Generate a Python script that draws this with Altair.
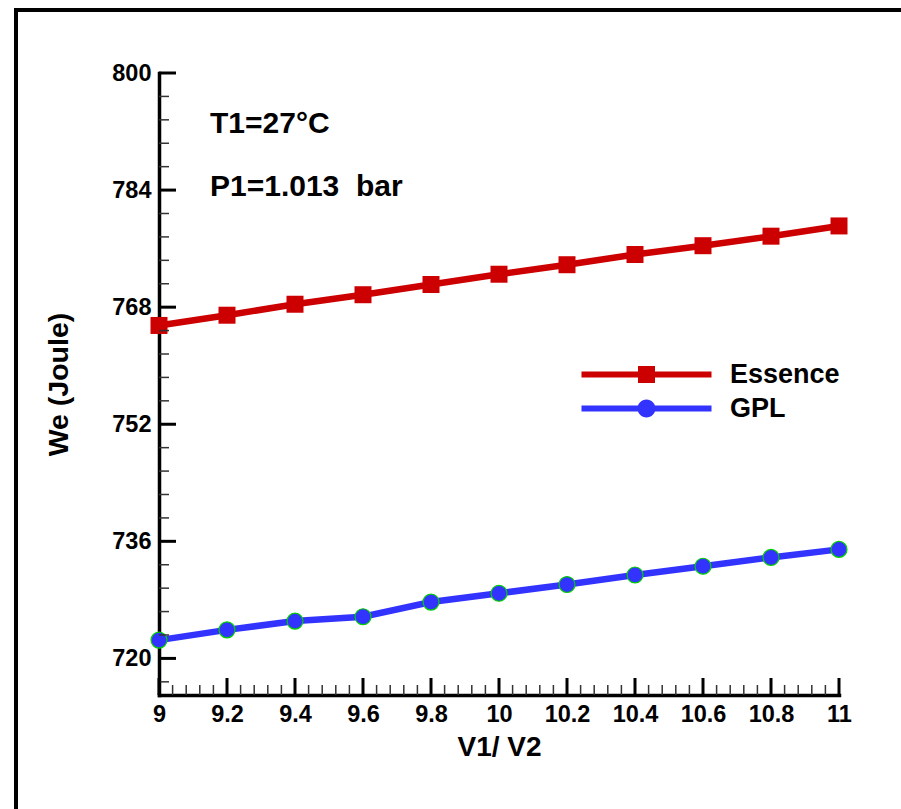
import altair as alt
import pandas as pd

# ---- data -------------------------------------------------------------
ratio = [9.0, 9.2, 9.4, 9.6, 9.8, 10.0, 10.2, 10.4, 10.6, 10.8, 11.0]
essence = [765.5, 766.9, 768.4, 769.7, 771.1, 772.5, 773.8, 775.2, 776.4, 777.7, 779.1]
gpl = [722.5, 723.9, 725.1, 725.7, 727.7, 728.9, 730.1, 731.4, 732.6, 733.8, 734.9]

fuels = ["Essence", "GPL"]
fuel_colors = ["#cc0000", "#3333ff"]

y_major = [720, 736, 752, 768, 784, 800]
x_major = [9.0, 9.2, 9.4, 9.6, 9.8, 10.0, 10.2, 10.4, 10.6, 10.8, 11.0]
y_minor = [round(720 + 3.2 * k, 2) for k in range(-1, 25) if k % 5 != 0]
x_minor = [round(9 + 0.04 * k, 2) for k in range(1, 50) if k % 5 != 0]

notes = ["T1=27°C", "P1=1.013\u00a0 bar"]

df = pd.DataFrame({
    "ratio": ratio * 2,
    "We": essence + gpl,
    "fuel": [fuels[0]] * len(ratio) + [fuels[1]] * len(ratio),
})

# ---- layout -----------------------------------------------------------
W, H = 680, 622
FONT = "Liberation Sans"
MAJOR, MINOR = 17, 10

x_scale = alt.Scale(domain=[9, 11], nice=False, zero=False)
y_scale = alt.Scale(domain=[715, 800], nice=False, zero=False)

x_axis = alt.Axis(
    values=x_major, format="~g", ticks=False, grid=False,
    domainColor="black", domainWidth=3.5, domainCap="square",
    labelFont=FONT, labelFontSize=23.5, labelFontWeight="bold", labelColor="black",
    labelPadding=7, labelFlush=False, labelOverlap=False,
    title="V1/ V2", titleFont=FONT, titleFontSize=28, titleFontWeight="bold",
    titleColor="black", titleBaseline="alphabetic", titleY=60,
)
y_axis = alt.Axis(
    values=y_major, format="d", ticks=False, grid=False,
    domainColor="black", domainWidth=3.5, domainCap="square",
    labelFont=FONT, labelFontSize=23.5, labelFontWeight="bold", labelColor="black",
    labelPadding=8, labelFlush=False, labelOverlap=False,
    title="We (Joule)", titleFont=FONT, titleFontSize=28.5, titleFontWeight="bold",
    titleColor="black", titleBaseline="alphabetic", titleX=-92,
)


def xq(field):
    return alt.X(field, type="quantitative", scale=x_scale, axis=x_axis)


def yq(field):
    return alt.Y(field, type="quantitative", scale=y_scale, axis=y_axis)


base = alt.Chart(df)

# series lines
line_ess = base.mark_line(strokeWidth=6.5, color=fuel_colors[0]).encode(
    x=xq("ratio"), y=yq("We"),
).transform_filter(alt.datum.fuel == fuels[0])

line_gpl = base.mark_line(strokeWidth=6.5, color=fuel_colors[1]).encode(
    x=xq("ratio"), y=yq("We"),
).transform_filter(alt.datum.fuel == fuels[1])

squares = base.mark_square(size=289, color=fuel_colors[0], opacity=1).encode(
    x=xq("ratio"), y=yq("We"),
).transform_filter(alt.datum.fuel == fuels[0])

circles = base.mark_circle(
    size=254, color=fuel_colors[1], opacity=1, stroke="#00d000", strokeWidth=1.2
).encode(
    x=xq("ratio"), y=yq("We"),
).transform_filter(alt.datum.fuel == fuels[1])

# legend glyphs: a bar with the series marker in the middle
# (symbol unit = 13 px, the bar reaches 65 px either side of the centre)
half_len = 5.0
half_line = 0.23
sq = 0.654
r = 0.692
k = 0.5523 * r
bar_path = f"M{-half_len},{-half_line}L{half_len},{-half_line}L{half_len},{half_line}L{-half_len},{half_line}Z"
square_glyph = bar_path + f"M{-sq},{-sq}L{sq},{-sq}L{sq},{sq}L{-sq},{sq}Z"
circle_glyph = bar_path + (
    f"M{r},0C{r},{k} {k},{r} 0,{r}C{-k},{r} {-r},{k} {-r},0"
    f"C{-r},{-k} {-k},{-r} 0,{-r}C{k},{-r} {r},{-k} {r},0Z"
)

legend = alt.Legend(
    orient="none", legendX=474, legendY=288, title=None, padding=0,
    labelFont=FONT, labelFontSize=27, labelFontWeight="bold", labelColor="black",
    labelOffset=70, labelLimit=0, symbolSize=676, symbolStrokeWidth=0,
    symbolOpacity=1, rowPadding=6,
)

legend_layer = base.mark_point(filled=True, opacity=0, size=676).encode(
    x=xq("ratio"), y=yq("We"),
    color=alt.Color("fuel:N", scale=alt.Scale(domain=fuels, range=fuel_colors), legend=legend),
    shape=alt.Shape("fuel:N", scale=alt.Scale(domain=fuels, range=[square_glyph, circle_glyph]),
                    legend=legend),
)

# inward tick marks
y_ticks_major = alt.Chart(pd.DataFrame({"v": y_major})).mark_rule(
    color="black", strokeWidth=3
).encode(y=yq("v"), x=alt.value(0), x2=alt.value(MAJOR))

y_ticks_minor = alt.Chart(pd.DataFrame({"v": y_minor})).mark_rule(
    color="#333333", strokeWidth=1.5
).encode(y=yq("v"), x=alt.value(0), x2=alt.value(MINOR))

x_ticks_major = alt.Chart(pd.DataFrame({"v": x_major})).mark_rule(
    color="black", strokeWidth=3
).encode(x=xq("v"), y=alt.value(H), y2=alt.value(H - MAJOR))

x_ticks_minor = alt.Chart(pd.DataFrame({"v": x_minor})).mark_rule(
    color="#333333", strokeWidth=1.5
).encode(x=xq("v"), y=alt.value(H), y2=alt.value(H - MINOR))

# condition annotations
note_t = alt.Chart(pd.DataFrame({"label": [notes[0]]})).mark_text(
    font=FONT, fontSize=30, fontWeight="bold", color="black",
    align="left", baseline="alphabetic",
).encode(text="label:N", x=alt.value(51), y=alt.value(60))

note_p = alt.Chart(pd.DataFrame({"label": [notes[1]]})).mark_text(
    font=FONT, fontSize=30, fontWeight="bold", color="black",
    align="left", baseline="alphabetic",
).encode(text="label:N", x=alt.value(51), y=alt.value(123))

# outer frame
frame = alt.Chart(pd.DataFrame({"f": [0]})).mark_rect(
    filled=False, stroke="black", strokeWidth=4
).encode(x=alt.value(-143), y=alt.value(-63), x2=alt.value(900), y2=alt.value(900))

chart = alt.layer(
    line_ess, line_gpl, squares, circles, legend_layer,
    y_ticks_minor, y_ticks_major, x_ticks_minor, x_ticks_major,
    note_t, note_p, frame,
).properties(
    width=W, height=H,
    padding={"left": 159, "top": 73, "right": 62, "bottom": 114},
    autosize=alt.AutoSizeParams(type="none"),
    background="white",
).configure_view(stroke=None)

chart.save("out.html", embed_options={"renderer": "svg", "actions": False})
